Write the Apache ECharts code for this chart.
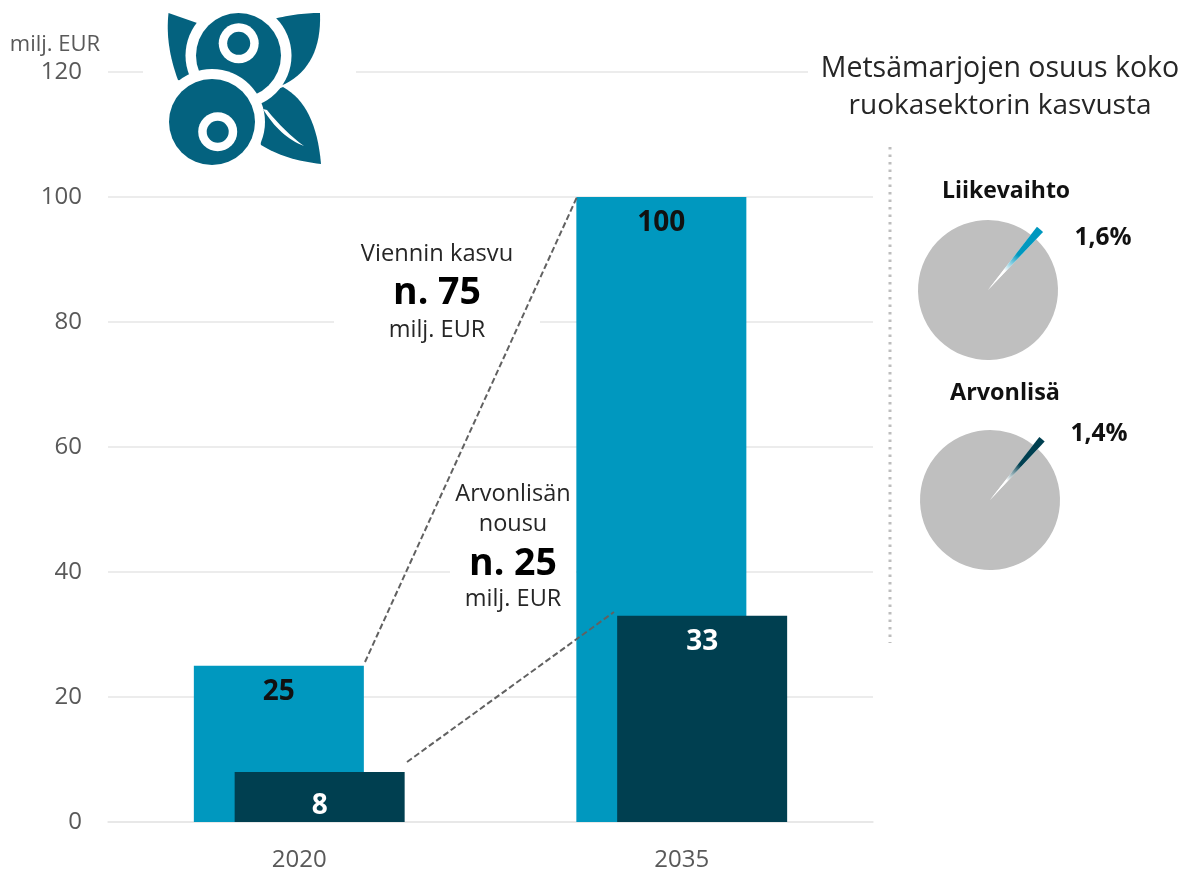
<!DOCTYPE html>
<html>
<head>
<meta charset="utf-8">
<script src="https://cdn.jsdelivr.net/npm/echarts@6/dist/echarts.min.js"></script>
<style>html,body{margin:0;padding:0;background:#fff}#c{width:1186px;height:869px}</style>
</head>
<body>
<div id="c"></div>
<script>
const categories = ['2020', '2035'];
const exportValues = [25, 100];
const valueAdded = [8, 33];
const turnoverShare = 1.6;
const valueAddedShare = 1.4;
const FONT = '"Open Sans", sans-serif';
const LIGHT = '#0098bf', DARK = '#003f50', GREY = '#bfbfbf', ICON = '#04627f';

const chart = echarts.init(document.getElementById('c'), null, { renderer: 'canvas' });

function txt(x, y, text, size, opts) {
  opts = opts || {};
  return { type: 'text', x: x, y: y + 2, z: 20, silent: true, style: {
    text: text, fontFamily: FONT, fontSize: size, fontWeight: opts.bold ? 700 : 400,
    fill: opts.color || '#262626', align: opts.align || 'center', verticalAlign: 'middle' } };
}
function patch(x, y, w, h) {
  return { type: 'rect', z: 1, silent: true, shape: { x: x, y: y, width: w, height: h }, style: { fill: '#fff' } };
}
function dashed(x1, y1, x2, y2) {
  return { type: 'line', z: 15, silent: true, shape: { x1: x1, y1: y1, x2: x2, y2: y2 },
    style: { stroke: '#616161', lineWidth: 2, lineDash: [6, 3] } };
}
function disc(cx, cy, r, fill) {
  return { type: 'circle', z: 10, silent: true, shape: { cx: cx, cy: cy, r: r }, style: { fill: fill } };
}
// outline: start point, then segments [x,y] (straight) or [cx,cy,x,y] (quadratic)
function leaf(outline, fill) {
  const pts = [outline[0].slice()];
  for (let i = 1; i < outline.length; i++) {
    const s = outline[i];
    if (s.length === 2) { pts.push(s.slice()); continue; }
    const p = pts[pts.length - 1];
    for (let k = 1; k <= 16; k++) {
      const t = k / 16, u = 1 - t;
      pts.push([u * u * p[0] + 2 * u * t * s[0] + t * t * s[2], u * u * p[1] + 2 * u * t * s[1] + t * t * s[3]]);
    }
  }
  return { type: 'polygon', z: 10, silent: true, shape: { points: pts }, style: { fill: fill } };
}
function shareGradient(cx, cy, tx, ty, color) {
  return { type: 'linear', global: true, x: cx, y: cy, x2: tx, y2: ty, colorStops: [
    { offset: 0, color: '#ffffff' }, { offset: 0.32, color: '#ffffff' },
    { offset: 0.58, color: color }, { offset: 1, color: color } ] };
}
function pieSeries(cx, cy, share, color) {
  const midFromNorth = 40.6;
  const reach = 80;
  const start = 90 - midFromNorth + share * 1.8;
  const common = { type: 'pie', silent: true, center: [cx, cy], startAngle: start, clockwise: true,
    label: { show: false }, labelLine: { show: false }, animation: false, z: 5 };
  const rad = midFromNorth * Math.PI / 180;
  const tx = cx + reach * Math.sin(rad), ty = cy - reach * Math.cos(rad);
  return [
    Object.assign({}, common, { radius: [0, 70], data: [
      { value: share, itemStyle: { color: '#ffffff' } },
      { value: 100 - share, itemStyle: { color: GREY } } ] }),
    Object.assign({}, common, { radius: [0, reach], z: 6, data: [
      { value: share, itemStyle: { color: shareGradient(cx, cy, tx, ty, color) } },
      { value: 100 - share, itemStyle: { color: 'transparent' } } ] })
  ];
}

const graphics = [
  patch(143, 66, 213, 12),
  patch(808, 66, 70, 12),
  patch(334, 316, 206, 12),
  patch(450, 566, 126, 12),
  dashed(365, 662, 577, 197),
  dashed(407, 762, 614, 612),
  { type: 'line', z: 10, silent: true, shape: { x1: 890, y1: 147, x2: 890, y2: 643 },
    style: { stroke: '#bdbdbd', lineWidth: 3, lineDash: [2.5, 5] } },
  // icon
  leaf([[168.5,13],[200,24],[195,85],[178,80],[165,45,168.5,13]], ICON),
  leaf([[320,13],[295,13,270,20],[270,90],[285,84],[322,65,320,13]], ICON),
  leaf([[283,87],[316,105,321,164],[285,160,261,145],[250,100]], ICON),
  leaf([[263,109],[267,110],[285,132,304,146],[280,137,263,109]], '#fff'),
  disc(238.5, 55.5, 53, '#fff'),
  disc(238.5, 55.5, 42.5, ICON),
  disc(212, 122, 53, '#fff'),
  disc(212, 122, 43, ICON),
  disc(238.7, 43.3, 20, '#fff'),
  disc(238.7, 43.3, 11.5, ICON),
  disc(217.7, 131.7, 19.5, '#fff'),
  disc(217.7, 131.7, 11, ICON),
  // texts
  txt(55, 43, 'milj. EUR', 22, { color: '#595959' }),
  txt(1000, 67, 'Metsämarjojen osuus koko', 28.5),
  txt(1000, 104, 'ruokasektorin kasvusta', 28),
  txt(437, 252, 'Viennin kasvu', 23.7),
  txt(437, 291, 'n. 75', 37.5, { bold: true, color: '#000' }),
  txt(437, 328, 'milj. EUR', 23.5),
  txt(513, 492, 'Arvonlisän', 23.5),
  txt(513, 522, 'nousu', 23.5),
  txt(513, 562, 'n. 25', 37.5, { bold: true, color: '#000' }),
  txt(513, 597, 'milj. EUR', 23.5),
  txt(1006, 189, 'Liikevaihto', 23, { bold: true, color: '#111' }),
  txt(1103, 236, turnoverShare.toFixed(1).replace('.', ',') + '%', 24.5, { bold: true, color: '#111' }),
  txt(1005, 391, 'Arvonlisä', 23.4, { bold: true, color: '#111' }),
  txt(1099, 432, valueAddedShare.toFixed(1).replace('.', ',') + '%', 24.5, { bold: true, color: '#111' })
];

chart.setOption({
  animation: false,
  backgroundColor: '#ffffff',
  textStyle: { fontFamily: FONT },
  grid: { left: 108, right: 313, top: 72, height: 750, containLabel: false, outerBoundsMode: 'none' },
  xAxis: { type: 'category', data: categories,
    axisLine: { lineStyle: { color: '#e6e6e6', width: 1.5 } }, axisTick: { show: false },
    axisLabel: { color: '#595959', fontSize: 24, fontFamily: FONT, margin: 26 } },
  yAxis: { type: 'value', min: 0, max: 120, interval: 20,
    axisLine: { show: false }, axisTick: { show: false },
    axisLabel: { color: '#595959', fontSize: 24, fontFamily: FONT, margin: 26 },
    splitLine: { lineStyle: { color: '#e6e6e6', width: 1.5 } } },
  series: [
    { type: 'bar', name: 'Vienti', data: exportValues, barWidth: 170, barGap: '-76%', z: 2,
      itemStyle: { color: LIGHT }, silent: true,
      label: { show: true, position: 'insideTop', distance: 12, color: '#111', fontSize: 28, fontWeight: 700, fontFamily: FONT } },
    { type: 'bar', name: 'Arvonlisä', barWidth: 170, z: 3,
      data: valueAdded.map((v, i) => i === 0 ? { value: v, label: { offset: [0, 8] } } : v),
      itemStyle: { color: DARK }, silent: true,
      label: { show: true, position: 'insideTop', distance: 12, color: '#fff', fontSize: 28, fontWeight: 700, fontFamily: FONT } }
  ].concat(pieSeries(988, 290, turnoverShare, LIGHT), pieSeries(990, 500, valueAddedShare, DARK)),
  graphic: { elements: graphics }
});
</script>
</body>
</html>
